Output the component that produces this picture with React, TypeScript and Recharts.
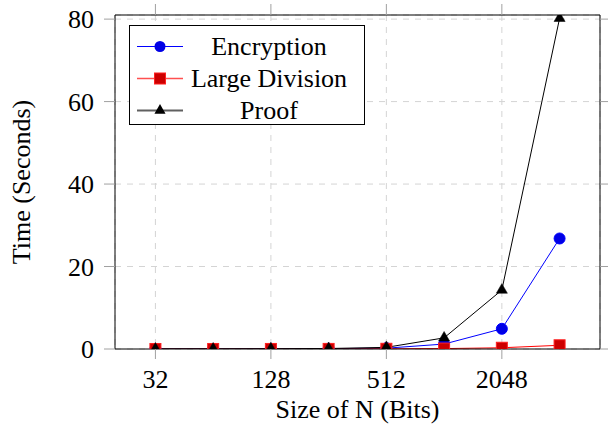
import React from 'react';
import { LineChart, Line, XAxis, YAxis, CartesianGrid, Legend, Label } from 'recharts';

const bitSizes = [32, 64, 128, 256, 512, 1024, 2048, 4096];
const encryption = [0.01, 0.02, 0.04, 0.08, 0.2, 1.2, 4.9, 26.8];
const largeDivision = [0.002, 0.004, 0.01, 0.02, 0.05, 0.1, 0.3, 0.9];
const proof = [0.02, 0.03, 0.06, 0.12, 0.4, 2.7, 14.3, 80.2];
const xTickBits = [32, 128, 512, 2048];
const yTicks = [0, 20, 40, 60, 80];
const seriesNames = ['Encryption', 'Large Division', 'Proof'];

const data = bitSizes.map((b, i) => ({
  logN: Math.log2(b),
  encryption: encryption[i],
  largeDivision: largeDivision[i],
  proof: proof[i],
}));

const FONT = "'Liberation Serif', 'Times New Roman', Times, serif";
const FS = 26;
const tickStyle = { fill: '#000', fontSize: FS, fontFamily: FONT, style: { fontFamily: FONT } };
const tickLineStyle = { stroke: '#a0a0a0' };

const CircleDot = (p: any) => (
  <circle key={`c${p.index}`} cx={p.cx} cy={p.cy} r={5.5} fill="#0000e6" stroke="#0000ff" strokeWidth={1} />
);
const SquareDot = (p: any) => (
  <rect key={`s${p.index}`} x={p.cx - 5.5} y={p.cy - 5.5} width={11} height={11} fill="#cc0000" stroke="#ff2020" strokeWidth={1} />
);
const triPts = (cx: number, cy: number, r: number) =>
  `${cx},${cy - r} ${cx - r * 0.866},${cy + r / 2} ${cx + r * 0.866},${cy + r / 2}`;
const TriDot = (p: any) => (
  <polygon key={`t${p.index}`} points={triPts(p.cx, p.cy, 6.4)} fill="#000" stroke="#000" strokeWidth={0.5} />
);

const renderLegend = () => {
  const rows = [
    { name: seriesNames[0], color: '#0000ff', w: 1, mark: 'c' },
    { name: seriesNames[1], color: '#ff5050', w: 1.5, mark: 's' },
    { name: seriesNames[2], color: '#606060', w: 2, mark: 't' },
  ];
  return (
    <svg width={236} height={100} style={{ display: 'block' }}>
      <rect x={0.5} y={0.5} width={235} height={99} fill="#fff" stroke="#000" strokeWidth={1} />
      {rows.map((r, i) => {
        const y = 21.5 + i * 32;
        return (
          <g key={r.name}>
            <line x1={8} x2={54} y1={y} y2={y} stroke={r.color} strokeWidth={r.w} />
            {r.mark === 'c' && <circle cx={31} cy={y} r={5.5} fill="#0000e6" />}
            {r.mark === 's' && <rect x={25.5} y={y - 5.5} width={11} height={11} fill="#cc0000" stroke="#ff2020" />}
            {r.mark === 't' && <polygon points={triPts(31, y, 6.4)} fill="#000" />}
            <text x={140} y={y} textAnchor="middle" dominantBaseline="central" style={{ fontFamily: FONT, fontSize: FS }} fill="#000">
              {r.name}
            </text>
          </g>
        );
      })}
    </svg>
  );
};

export default function App() {
  return (
    <div style={{ position: 'absolute', left: 0, top: 0, width: 608, height: 424, background: '#fff', fontFamily: FONT }}>
      <LineChart width={608} height={424} data={data} margin={{ top: 0, right: 0, bottom: 0, left: 0 }} style={{ fontFamily: FONT }}>
        <CartesianGrid stroke="#d4d4d4" strokeDasharray="6 6" xAxisId="bottom" yAxisId="left" />
        <XAxis
          xAxisId="bottom"
          dataKey="logN"
          type="number"
          domain={[4.3, 12.7]}
          allowDataOverflow
          ticks={xTickBits.map((b) => Math.log2(b))}
          tickFormatter={(v: number) => String(Math.round(Math.pow(2, v)))}
          height={75}
          tickSize={10}
          tickMargin={11}
          tick={tickStyle}
          tickLine={tickLineStyle}
          axisLine={{ stroke: '#000' }}
        >
          <Label
            content={(props: any) => {
              const vb = props.viewBox;
              return (
                <text x={vb.x + vb.width / 2} y={vb.y + vb.height - 6} textAnchor="middle" style={{ fontFamily: FONT, fontSize: FS }} fill="#000">
                  Size of N (Bits)
                </text>
              );
            }}
          />
        </XAxis>
        <XAxis
          xAxisId="top"
          orientation="top"
          dataKey="logN"
          type="number"
          domain={[4.3, 12.7]}
          allowDataOverflow
          ticks={xTickBits.map((b) => Math.log2(b))}
          tickFormatter={() => ''}
          height={15}
          tickSize={11}
          tickLine={tickLineStyle}
          axisLine={{ stroke: '#000' }}
        />
        <YAxis
          yAxisId="left"
          type="number"
          domain={[0, 81]}
          allowDataOverflow
          ticks={yTicks}
          width={115}
          tickSize={11}
          tickMargin={10}
          tick={tickStyle}
          tickLine={tickLineStyle}
          axisLine={{ stroke: '#000' }}
        >
          <Label
            content={(props: any) => {
              const vb = props.viewBox;
              const cy = vb.y + vb.height / 2;
              return (
                <text transform={`translate(21, ${cy}) rotate(-90)`} textAnchor="middle" dominantBaseline="central" style={{ fontFamily: FONT, fontSize: FS }} fill="#000">
                  Time (Seconds)
                </text>
              );
            }}
          />
        </YAxis>
        <YAxis
          yAxisId="right"
          orientation="right"
          type="number"
          domain={[0, 81]}
          allowDataOverflow
          ticks={yTicks}
          tickFormatter={() => ''}
          width={8}
          tickSize={10}
          tickLine={tickLineStyle}
          axisLine={{ stroke: '#000' }}
        />
        <Legend
          layout="vertical"
          align="center"
          verticalAlign="middle"
          content={renderLegend}
          wrapperStyle={{ left: 129, top: 25, width: 236, height: 100 }}
        />
        <Line xAxisId="bottom" yAxisId="left" type="linear" dataKey="encryption" name={seriesNames[0]} stroke="#0000ff" strokeWidth={1} dot={CircleDot} activeDot={false} isAnimationActive={false} />
        <Line xAxisId="bottom" yAxisId="left" type="linear" dataKey="largeDivision" name={seriesNames[1]} stroke="#ff0000" strokeWidth={1} dot={SquareDot} activeDot={false} isAnimationActive={false} />
        <Line xAxisId="bottom" yAxisId="left" type="linear" dataKey="proof" name={seriesNames[2]} stroke="#000" strokeWidth={1} dot={TriDot} activeDot={false} isAnimationActive={false} />
      </LineChart>
    </div>
  );
}
